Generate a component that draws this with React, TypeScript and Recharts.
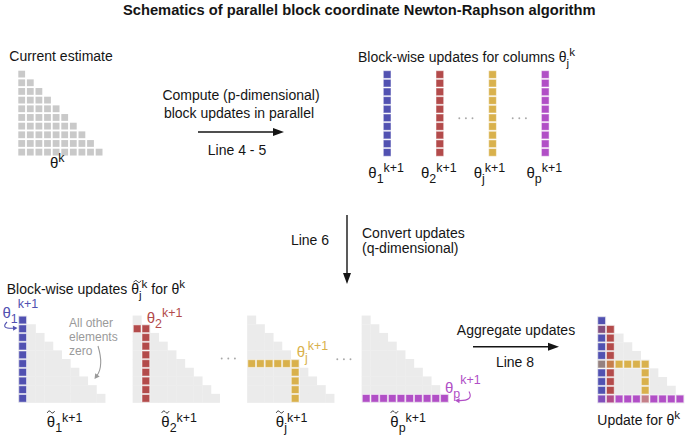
import React from 'react';
import { ScatterChart, Scatter, XAxis, YAxis } from 'recharts';

// ---------------- data ----------------
const TITLE = 'Schematics of parallel block coordinate Newton-Raphson algorithm';
const MATRIX_SIZE = 10; // p columns of the lower-triangular estimate
const BLOCK_INDEX = [0, 1, 5, 9]; // updated columns: 1, 2, j, p
const BLOCK_SUB = ['1', '2', 'j', 'p'];
const STEP_LINES = ['Line 4 - 5', 'Line 6', 'Line 8'];
const STEP1_TEXT = ['Compute (p-dimensional)', 'block updates in parallel'];
const STEP2_TEXT = ['Convert updates', '(q-dimensional)'];
const STEP3_TEXT = ['Aggregate updates'];
const NOTE_TEXT = ['All other', 'elements', 'zero'];
const CAPTIONS = ['Current estimate', 'Block-wise updates for columns ', 'Block-wise updates ', ' for ', 'Update for '];
const SYMBOL = 'θ';
const SUP_K = 'k';
const SUP_K1 = 'k+1';

// ---------------- styles / layout ----------------
const W = 685;
const H = 440;
const FONT = '"Liberation Sans", Arial, Helvetica, sans-serif';
const BLOCK_COLORS = ['#5151b1', '#b34b4b', '#d9b14c', '#b14fc6'];
const GRAY_DARK = '#c9c9c9';
const GRAY_LIGHT = '#ebebeb';
const NOTE_GRAY = '#9a9a9a';
const DOT_GRAY = '#a8a8a8';
const INK = '#151515';

const LAYOUT = {
  estimate: { left: 18.3, top: 70.7, pitchX: 8.6, pitchY: 8.67, size: 6.8 },
  columns: { left: 383.3, top: 70.7, gap: 52.7, pitch: 8.65, size: 7.7 },
  panels: { left: 18.3, top: 315.7, gap: 114.5, pitch: 8.7, size: 7.7 },
  final: { left: 597.3, top: 316.3, pitch: 8.7, size: 7.7 },
};

// ---------------- helpers ----------------
const hexToRgb = (h: string) => [1, 3, 5].map((i) => parseInt(h.slice(i, i + 2), 16));
const mixColors = (cols: string[]) => {
  const rgbs = cols.map(hexToRgb);
  const avg = [0, 1, 2].map((k) => Math.round(rgbs.reduce((s, c) => s + c[k], 0) / rgbs.length));
  return `rgb(${avg[0]},${avg[1]},${avg[2]})`;
};
const inBlock = (r: number, c: number, j: number) => (r === j && c <= j) || (c === j && r >= j);

type Cell = { x: number; y: number; s: number; fill: string; edge?: boolean };

// current estimate (grey, gapped squares)
const estimateCells: Cell[] = [];
for (let r = 0; r < MATRIX_SIZE; r++)
  for (let c = 0; c <= r; c++) {
    const L = LAYOUT.estimate;
    estimateCells.push({ x: L.left + c * L.pitchX + L.size / 2, y: L.top + r * L.pitchY + L.size / 2, s: L.size, fill: GRAY_DARK });
  }

// column blocks (p-dimensional)
const columnCells: Cell[] = [];
BLOCK_INDEX.forEach((_, b) => {
  const L = LAYOUT.columns;
  for (let r = 0; r < MATRIX_SIZE; r++)
    columnCells.push({ x: L.left + b * L.gap + L.size / 2, y: L.top + r * L.pitch + L.size / 2, s: L.size, fill: BLOCK_COLORS[b], edge: true });
});

// lower panels background + q-dimensional blocks
const panelBg: Cell[] = [];
const panelCells: Cell[] = [];
BLOCK_INDEX.forEach((j, b) => {
  const L = LAYOUT.panels;
  const left = L.left + b * L.gap;
  for (let r = 0; r < MATRIX_SIZE; r++)
    for (let c = 0; c <= r; c++) {
      const cx = left + c * L.pitch + L.pitch / 2;
      const cy = L.top + r * L.pitch + L.pitch / 2;
      panelBg.push({ x: cx, y: cy, s: L.pitch + 0.3, fill: GRAY_LIGHT });
      if (inBlock(r, c, j)) panelCells.push({ x: cx, y: cy, s: L.size, fill: BLOCK_COLORS[b], edge: true });
    }
});

// aggregated update
{
  const L = LAYOUT.final;
  for (let r = 0; r < MATRIX_SIZE; r++)
    for (let c = 0; c <= r; c++) {
      const cx = L.left + c * L.pitch + L.pitch / 2;
      const cy = L.top + r * L.pitch + L.pitch / 2;
      panelBg.push({ x: cx, y: cy, s: L.pitch + 0.3, fill: GRAY_LIGHT });
      const cols = BLOCK_INDEX.map((j, b) => (inBlock(r, c, j) ? BLOCK_COLORS[b] : null)).filter(Boolean) as string[];
      if (cols.length) panelCells.push({ x: cx, y: cy, s: L.size, fill: mixColors(cols), edge: true });
    }
}

// dots "..."
const dotGroups = [
  { x: 459.3, y: 118.3 },
  { x: 512.7, y: 118.3 },
  { x: 221.7, y: 358.5 },
  { x: 337.3, y: 359.3 },
];
const dots = dotGroups.flatMap((g) => [0, 1, 2].map((k) => ({ x: g.x + k * 6.6, y: g.y })));

// rich text annotations
type Seg = { t: string; role?: 'base' | 'sub' | 'sup' };
type Anno = { x: number; y: number; segs: Seg[]; size?: number; weight?: string; anchor?: string; fill?: string; supOff?: number; subOff?: number };
const th = (sub?: string, sup?: string): Seg[] => {
  const s: Seg[] = [{ t: SYMBOL }];
  if (sub) s.push({ t: sub, role: 'sub' });
  if (sup) s.push({ t: sup, role: 'sup' });
  return s;
};

const annos: Anno[] = [
  { x: 123, y: 14.5, segs: [{ t: TITLE }], size: 14.7, weight: 'bold' },
  { x: 9.3, y: 61, segs: [{ t: CAPTIONS[0] }] },
  { x: 50, y: 168, segs: th(undefined, SUP_K), size: 15 },
  { x: 241, y: 100, segs: [{ t: STEP1_TEXT[0] }], anchor: 'middle' },
  { x: 239, y: 118, segs: [{ t: STEP1_TEXT[1] }], anchor: 'middle' },
  { x: 237, y: 155, segs: [{ t: STEP_LINES[0] }], anchor: 'middle' },
  { x: 358, y: 62, segs: [{ t: CAPTIONS[1] }, ...th('j', SUP_K)] },
  ...BLOCK_SUB.map((s, b) => ({ x: LAYOUT.columns.left + b * LAYOUT.columns.gap - 15, y: 178, segs: th(s, SUP_K1), size: 15 })),
  { x: 310, y: 245, segs: [{ t: STEP_LINES[1] }], anchor: 'middle' },
  { x: 362, y: 238, segs: [{ t: STEP2_TEXT[0] }] },
  { x: 362, y: 253, segs: [{ t: STEP2_TEXT[1] }] },
  { x: 6.7, y: 294, segs: [{ t: CAPTIONS[2] }, ...th('j', SUP_K), { t: CAPTIONS[3] }, ...th(undefined, SUP_K)] },
  ...NOTE_TEXT.map((t, i) => ({ x: 69, y: 327 + i * 14.2, segs: [{ t }], size: 12, fill: NOTE_GRAY })),
  ...BLOCK_SUB.map((s, b) => ({ x: LAYOUT.panels.left + b * LAYOUT.panels.gap + 28.5, y: 427, segs: th(s, SUP_K1), size: 15, supOff: 5.5 })),
  { x: 2.5, y: 318, segs: th(BLOCK_SUB[0], SUP_K1), size: 15, fill: BLOCK_COLORS[0], supOff: 10 },
  { x: 146.7, y: 323, segs: th(BLOCK_SUB[1], SUP_K1), size: 15, fill: BLOCK_COLORS[1] },
  { x: 296.7, y: 356.5, segs: th(BLOCK_SUB[2], SUP_K1), size: 15, fill: BLOCK_COLORS[2] },
  { x: 445, y: 393, segs: th(BLOCK_SUB[3], SUP_K1), size: 15, fill: BLOCK_COLORS[3], supOff: 9.5 },
  { x: 516, y: 335, segs: [{ t: STEP3_TEXT[0] }], anchor: 'middle' },
  { x: 515, y: 367, segs: [{ t: STEP_LINES[2] }], anchor: 'middle' },
  { x: 597.3, y: 425, segs: [{ t: CAPTIONS[4] }, ...th(undefined, SUP_K)] },
];

// tilde marks over the θ of the q-dimensional labels (drawn as small waves)
const tildes = [
  { x: 137.4, y: 281.5 },
  ...BLOCK_SUB.map((_, b) => ({ x: LAYOUT.panels.left + b * LAYOUT.panels.gap + 32.6, y: 412 })),
];

// arrows
type Arrow = { x: number; y: number; ex: number; ey: number; qx?: number; qy?: number; color: string; w: number; hl: number; hw: number };
const arrows: Arrow[] = [
  { x: 198, y: 132, ex: 284, ey: 132, color: INK, w: 1.4, hl: 11, hw: 4 },
  { x: 347, y: 215, ex: 347, ey: 284, color: INK, w: 1.4, hl: 11, hw: 4 },
  { x: 473, y: 346.7, ex: 559, ey: 346.7, color: INK, w: 1.4, hl: 11, hw: 4 },
  { x: 7, y: 322, qx: 0, qy: 329, ex: 17.5, ey: 328, color: BLOCK_COLORS[0], w: 1.1, hl: 4.5, hw: 2.6 },
  { x: 98, y: 346, qx: 104, qy: 366, ex: 94.5, ey: 379, color: NOTE_GRAY, w: 1.1, hl: 5, hw: 2.8 },
  { x: 469, y: 391.5, qx: 474, qy: 401, ex: 455, ey: 400.5, color: BLOCK_COLORS[3], w: 1.1, hl: 4.5, hw: 2.6 },
];

// ---------------- shapes ----------------
const CellShape = (p: any) => {
  const { cx, cy, payload } = p;
  const s = payload.s;
  return (
    <rect
      x={cx - s / 2}
      y={cy - s / 2}
      width={s}
      height={s}
      fill={payload.fill}
      stroke={payload.edge ? 'rgba(255,255,255,0.5)' : 'none'}
      strokeWidth={payload.edge ? 1 : 0}
    />
  );
};

const DotShape = (p: any) => <circle cx={p.cx} cy={p.cy} r={0.95} fill={DOT_GRAY} />;

const TextShape = (p: any) => {
  const { cx, cy, payload } = p;
  const a = payload as Anno;
  const size = a.size ?? 14;
  const subOff = a.subOff ?? 5;
  const supOff = a.supOff ?? 6.5;
  let cur = 0;
  return (
    <text
      x={cx}
      y={cy}
      fontFamily={FONT}
      fontSize={size}
      fontWeight={a.weight ?? 'normal'}
      fill={a.fill ?? INK}
      textAnchor={a.anchor ?? 'start'}
      style={{ whiteSpace: 'pre' }}
    >
      {a.segs.map((s, i) => {
        const target = s.role === 'sub' ? subOff : s.role === 'sup' ? -supOff : 0;
        const dy = target - cur;
        cur = target;
        const fs = s.role === 'sub' || s.role === 'sup' ? size * 0.83 : size;
        return (
          <tspan key={i} dy={dy} fontSize={fs}>
            {s.t}
          </tspan>
        );
      })}
    </text>
  );
};

const TildeShape = (p: any) => {
  const { cx, cy } = p;
  return (
    <path
      d={`M${cx - 3.6},${cy + 0.8} C${cx - 2.4},${cy - 1.6} ${cx - 1},${cy - 1.2} ${cx},${cy} S${cx + 2.4},${cy + 1.6} ${cx + 3.6},${cy - 0.8}`}
      fill="none"
      stroke={INK}
      strokeWidth={0.9}
    />
  );
};

const ArrowShape = (p: any) => {
  const { cx, cy, payload } = p;
  const a = payload as Arrow;
  const ex = cx + (a.ex - a.x);
  const ey = cy + (a.ey - a.y);
  const hasQ = a.qx !== undefined;
  const qx = hasQ ? cx + ((a.qx as number) - a.x) : cx;
  const qy = hasQ ? cy + ((a.qy as number) - a.y) : cy;
  const dx = ex - qx;
  const dy = ey - qy;
  const len = Math.hypot(dx, dy) || 1;
  const ux = dx / len;
  const uy = dy / len;
  const bx = ex - ux * a.hl;
  const by = ey - uy * a.hl;
  const nx = -uy;
  const ny = ux;
  const d = hasQ ? `M${cx},${cy} Q${qx},${qy} ${bx + ux},${by + uy}` : `M${cx},${cy} L${bx + ux},${by + uy}`;
  return (
    <g>
      <path d={d} fill="none" stroke={a.color} strokeWidth={a.w} />
      <polygon points={`${ex},${ey} ${bx + nx * a.hw},${by + ny * a.hw} ${bx - nx * a.hw},${by - ny * a.hw}`} fill={a.color} />
    </g>
  );
};

export default function App() {
  return (
    <div style={{ position: 'absolute', left: 0, top: 0, width: W, height: H, background: '#fff' }}>
      <ScatterChart width={W} height={H} margin={{ top: 0, right: 0, bottom: 0, left: 0 }}>
        <XAxis type="number" dataKey="x" domain={[0, W]} hide allowDataOverflow />
        <YAxis type="number" dataKey="y" domain={[0, H]} reversed hide allowDataOverflow />
        <Scatter data={estimateCells} shape={CellShape} isAnimationActive={false} />
        <Scatter data={panelBg} shape={CellShape} isAnimationActive={false} />
        <Scatter data={columnCells} shape={CellShape} isAnimationActive={false} />
        <Scatter data={panelCells} shape={CellShape} isAnimationActive={false} />
        <Scatter data={dots} shape={DotShape} isAnimationActive={false} />
        <Scatter data={arrows} shape={ArrowShape} isAnimationActive={false} />
        <Scatter data={tildes} shape={TildeShape} isAnimationActive={false} />
        <Scatter data={annos} shape={TextShape} isAnimationActive={false} />
      </ScatterChart>
    </div>
  );
}
